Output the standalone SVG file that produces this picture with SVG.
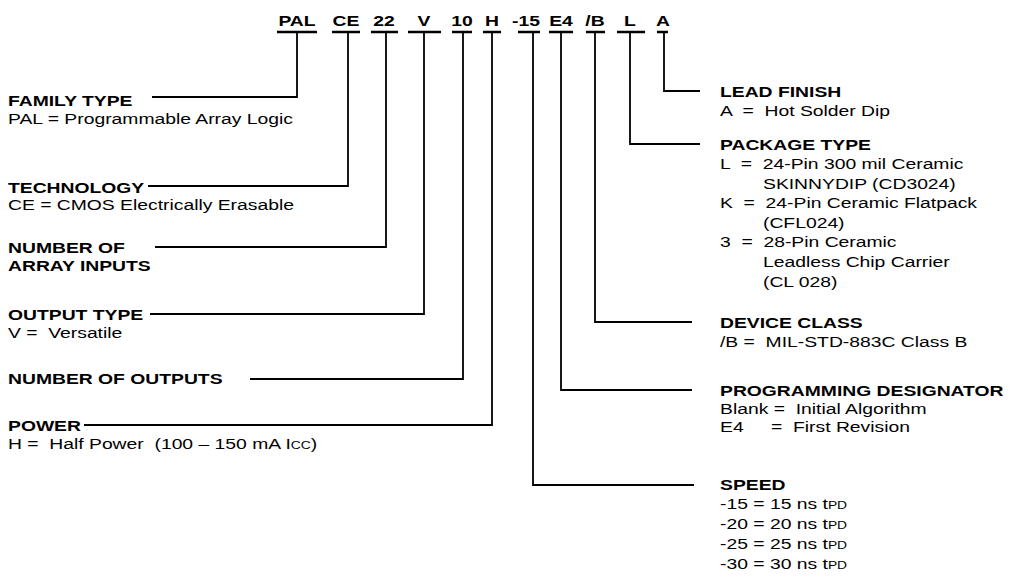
<svg xmlns="http://www.w3.org/2000/svg" width="1017" height="584" viewBox="0 0 1017 584">
<style>
text{font-family:"Liberation Sans",Arial,Helvetica,sans-serif;font-size:14px;fill:#000}
.code{font-weight:bold;text-anchor:middle}
.h{font-weight:bold}
.ul{stroke:#000;stroke-width:2.5;fill:none}
.ln{stroke:#000;stroke-width:1.8;fill:none}
.sm{font-size:10px}
</style>
<rect width="1017" height="584" fill="#fff"/>
<g id="codes">
<text class="code" transform="matrix(1.38 0 0 1 297 26)">PAL</text>
<text class="code" transform="matrix(1.38 0 0 1 346 26)">CE</text>
<text class="code" transform="matrix(1.38 0 0 1 384 26)">22</text>
<text class="code" transform="matrix(1.38 0 0 1 424 26)">V</text>
<text class="code" transform="matrix(1.38 0 0 1 462 26)">10</text>
<text class="code" transform="matrix(1.38 0 0 1 492 26)">H</text>
<text class="code" transform="matrix(1.38 0 0 1 526 26)">-15</text>
<text class="code" transform="matrix(1.38 0 0 1 561 26)">E4</text>
<text class="code" transform="matrix(1.38 0 0 1 595 26)">/B</text>
<text class="code" transform="matrix(1.38 0 0 1 630 26)">L</text>
<text class="code" transform="matrix(1.38 0 0 1 663 26)">A</text>
<path class="ul" d="M277 32H317M332 32H360M371 32H398M408 32H441M452 32H472M483 32H501M518 32H540M549 32H573M586 32H605M617 32H645M657 32H668"/>
</g>
<g id="connectors">
<path class="ln" d="M297 32V97H152"/>
<path class="ln" d="M348 32V186H148"/>
<path class="ln" d="M386 32V247H155"/>
<path class="ln" d="M424 32V314H150"/>
<path class="ln" d="M463 32V379H250"/>
<path class="ln" d="M492 32V425H84"/>
<path class="ln" d="M664 32V91H700"/>
<path class="ln" d="M630 32V144H700"/>
<path class="ln" d="M595 32V322H692"/>
<path class="ln" d="M561 32V390H692"/>
<path class="ln" d="M533 32V485H694"/>
</g>
<g id="family">
<text class="h" transform="matrix(1.38 0 0 1 8 106)">FAMILY TYPE</text>
<text transform="matrix(1.38 0 0 1 8 124)">PAL = Programmable Array Logic</text>
</g>
<g id="technology">
<text class="h" transform="matrix(1.38 0 0 1 8 193)">TECHNOLOGY</text>
<text transform="matrix(1.38 0 0 1 8 210)">CE = CMOS Electrically Erasable</text>
</g>
<g id="inputs">
<text class="h" transform="matrix(1.38 0 0 1 8 253)">NUMBER OF</text>
<text class="h" transform="matrix(1.38 0 0 1 8 271)">ARRAY INPUTS</text>
</g>
<g id="outputtype">
<text class="h" transform="matrix(1.38 0 0 1 8 320)">OUTPUT TYPE</text>
<text transform="matrix(1.38 0 0 1 8 338)" xml:space="preserve">V =  Versatile</text>
</g>
<g id="outputs">
<text class="h" transform="matrix(1.38 0 0 1 8 384)">NUMBER OF OUTPUTS</text>
</g>
<g id="power">
<text class="h" transform="matrix(1.38 0 0 1 8 431)">POWER</text>
<text transform="matrix(1.38 0 0 1 8 449)" xml:space="preserve">H =  Half Power  (100 – 150 mA I<tspan class="sm">CC</tspan>)</text>
</g>
<g id="leadfinish">
<text class="h" transform="matrix(1.38 0 0 1 720 97)">LEAD FINISH</text>
<text transform="matrix(1.38 0 0 1 720 116)" xml:space="preserve">A  =  Hot Solder Dip</text>
</g>
<g id="package">
<text class="h" transform="matrix(1.38 0 0 1 720 150)">PACKAGE TYPE</text>
<text transform="matrix(1.38 0 0 1 720 169)" xml:space="preserve">L  =  24-Pin 300 mil Ceramic</text>
<text transform="matrix(1.38 0 0 1 763 189)">SKINNYDIP (CD3024)</text>
<text transform="matrix(1.38 0 0 1 720 208)" xml:space="preserve">K  =  24-Pin Ceramic Flatpack</text>
<text transform="matrix(1.38 0 0 1 763 228)">(CFL024)</text>
<text transform="matrix(1.38 0 0 1 720 247)" xml:space="preserve">3  =  28-Pin Ceramic</text>
<text transform="matrix(1.38 0 0 1 763 267)">Leadless Chip Carrier</text>
<text transform="matrix(1.38 0 0 1 763 287)">(CL 028)</text>
</g>
<g id="deviceclass">
<text class="h" transform="matrix(1.38 0 0 1 720 328)">DEVICE CLASS</text>
<text transform="matrix(1.38 0 0 1 720 347)" xml:space="preserve">/B =  MIL-STD-883C Class B</text>
</g>
<g id="programming">
<text class="h" transform="matrix(1.38 0 0 1 720 396)">PROGRAMMING DESIGNATOR</text>
<text transform="matrix(1.38 0 0 1 720 414)" xml:space="preserve">Blank =  Initial Algorithm</text>
<text transform="matrix(1.38 0 0 1 720 432)">E4</text>
<text transform="matrix(1.38 0 0 1 771 432)" xml:space="preserve">=  First Revision</text>
</g>
<g id="speed">
<text class="h" transform="matrix(1.38 0 0 1 720 490)">SPEED</text>
<text transform="matrix(1.38 0 0 1 720 509)">-15 = 15 ns t<tspan class="sm">PD</tspan></text>
<text transform="matrix(1.38 0 0 1 720 529)">-20 = 20 ns t<tspan class="sm">PD</tspan></text>
<text transform="matrix(1.38 0 0 1 720 549)">-25 = 25 ns t<tspan class="sm">PD</tspan></text>
<text transform="matrix(1.38 0 0 1 720 569)">-30 = 30 ns t<tspan class="sm">PD</tspan></text>
</g>
</svg>
